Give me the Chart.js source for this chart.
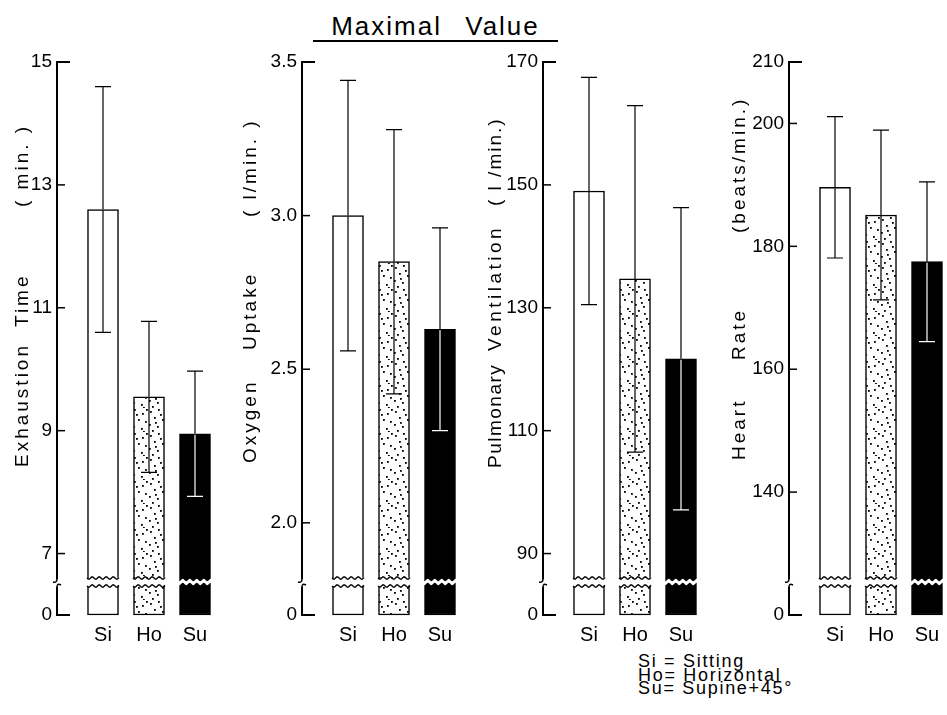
<!DOCTYPE html>
<html>
<head>
<meta charset="utf-8">
<script src="https://cdn.jsdelivr.net/npm/chart.js@4.4.1/dist/chart.umd.min.js"></script>
<style>
  html, body { margin: 0; padding: 0; background: #fff; overflow: hidden; }
  body { width: 947px; height: 715px; position: relative; font-family: "Liberation Sans", Arial, sans-serif; color: #000; }
  canvas { position: absolute; top: 0; }
  #titulo { position: absolute; left: 313px; top: 12px; width: 245px; height: 28px; line-height: 28px;
            text-align: center; font-size: 26px; letter-spacing: 2px; word-spacing: 14px; border-bottom: 2px solid #000; }
  #legenda { position: absolute; left: 638px; top: 655px; font-size: 18px; line-height: 13.5px; letter-spacing: 1.7px; white-space: pre; }
</style>
</head>
<body>
<div id="titulo">Maximal Value</div>
<div id="legenda">Si = Sitting
Ho= Horizontal
Su= Supine+45°</div>
<script>
// Posições do teste
const categorias = ['Si', 'Ho', 'Su'];

// Tempo até exaustão (min.)
const tempoMedia = [12.6, 9.55, 8.95];
const tempoDP = [2.0, 1.23, 1.02];
const tempoTicks = [7, 9, 11, 13, 15];

// Consumo de oxigênio (l/min.)
const oxigenioMedia = [3.0, 2.85, 2.63];
const oxigenioDP = [0.44, 0.43, 0.33];
const oxigenioTicks = [2.0, 2.5, 3.0, 3.5];

// Ventilação pulmonar (l/min.)
const ventilacaoMedia = [149.0, 134.7, 121.7];
const ventilacaoDP = [18.5, 28.2, 24.6];
const ventilacaoTicks = [90, 110, 130, 150, 170];

// Frequência cardíaca (bpm)
const fcMedia = [189.6, 185.1, 177.5];
const fcDP = [11.5, 13.8, 13.0];
const fcTicks = [140, 160, 180, 200, 210];

// min = onde o "0" fica depois da quebra do eixo
// titulo: [texto, y inicial, espaçamento entre letras]
const paineis = [
  { eixoX: 57, min: 6, max: 15, casas: 0, media: tempoMedia, dp: tempoDP, ticks: tempoTicks,
    tituloX: 23, titulo: [['Exhaustion', 467, 3], ['Time', 327, 3], ['( min. )', 207, 3]] },
  { eixoX: 302, min: 1.7, max: 3.5, casas: 1, media: oxigenioMedia, dp: oxigenioDP, ticks: oxigenioTicks,
    tituloX: 251, titulo: [['Oxygen', 463, 3], ['Uptake', 350, 3], ['( l/min. )', 217, 3]] },
  { eixoX: 543, min: 80, max: 170, casas: 0, media: ventilacaoMedia, dp: ventilacaoDP, ticks: ventilacaoTicks,
    tituloX: 496, titulo: [['Pulmonary', 468, 1.5], ['Ventilation', 351, 3.5], ['( l /min.)', 206, 2]] },
  { eixoX: 789, min: 120, max: 210, casas: 0, media: fcMedia, dp: fcDP, ticks: fcTicks,
    tituloX: 740, titulo: [['Heart', 460, 3], ['Rate', 360, 3], ['(beats/min.)', 233, 3]] }
];

const LARGURA_EIXO = 100;
const FOLGA = 23;
const fonte = { family: '"Liberation Sans", Arial, sans-serif', size: 19 };

// Pontilhado da barra "Ho"
function criarPontilhado() {
  const tile = document.createElement('canvas');
  tile.width = 24; tile.height = 24;
  const t = tile.getContext('2d');
  t.fillStyle = '#fff';
  t.fillRect(0, 0, 24, 24);
  t.fillStyle = '#000';
  const pontos = [[2, 3], [10, 1], [18, 5], [6, 9], [14, 11], [21, 13], [1, 16], [9, 18], [17, 20], [22, 1], [4, 22], [12, 6], [19, 23], [7, 14]];
  pontos.forEach(([x, y]) => t.fillRect(x, y, 1.8, 1.8));
  return t.createPattern(tile, 'repeat');
}

function onda(ctx, x0, x1, y, inverso) {
  const passo = inverso ? -1 : 1;
  const ini = inverso ? x1 : x0;
  const fim = inverso ? x0 : x1;
  for (let x = ini; inverso ? x >= fim : x <= fim; x += passo) {
    const yy = y + 1.2 * Math.sin((x - x0) / 7 * 2 * Math.PI);
    ctx.lineTo(x, yy);
  }
}

function criarDetalhes(p, esquerda) {
  return {
    id: 'detalhes',
    afterDraw(chart) {
      const ctx = chart.ctx;
      const area = chart.chartArea;
      const escala = chart.scales.y;
      const barras = chart.getDatasetMeta(0).data;
      const ax = area.left - FOLGA;
      const fundo = area.bottom;
      ctx.save();

      // barras de desvio padrão
      barras.forEach((b, i) => {
        const yTopo = escala.getPixelForValue(p.media[i] + p.dp[i]);
        const yBase = escala.getPixelForValue(p.media[i] - p.dp[i]);
        const dentro = i === 2 ? '#fff' : '#000';
        ctx.lineWidth = 1.2;
        ctx.strokeStyle = '#000';
        ctx.beginPath();
        ctx.moveTo(b.x, yTopo); ctx.lineTo(b.x, b.y);
        ctx.moveTo(b.x - 8, yTopo); ctx.lineTo(b.x + 8, yTopo);
        ctx.stroke();
        ctx.strokeStyle = dentro;
        ctx.beginPath();
        ctx.moveTo(b.x, b.y + 1); ctx.lineTo(b.x, yBase);
        ctx.moveTo(b.x - 8, yBase); ctx.lineTo(b.x + 8, yBase);
        ctx.stroke();
      });

      // quebra das barras
      barras.forEach((b, i) => {
        const x0 = b.x - b.width / 2 - 2;
        const x1 = b.x + b.width / 2 + 2;
        const yA = i === 2 ? fundo - 35 : fundo - 37;
        const yB = i === 2 ? fundo - 31 : fundo - 29;
        ctx.fillStyle = '#fff';
        ctx.beginPath();
        onda(ctx, x0, x1, yA, false);
        onda(ctx, x0, x1, yB, true);
        ctx.closePath();
        ctx.fill();
        if (i < 2) {
          ctx.strokeStyle = '#000';
          ctx.lineWidth = 1.4;
          const xa = b.x - b.width / 2 - 0.5;
          const xb = b.x + b.width / 2 + 0.5;
          ctx.beginPath(); onda(ctx, xa, xb, yA, false); ctx.stroke();
          ctx.beginPath(); onda(ctx, xa, xb, yB, false); ctx.stroke();
        }
      });

      // eixo vertical com quebra
      ctx.strokeStyle = '#000';
      ctx.lineWidth = 2;
      ctx.beginPath();
      ctx.moveTo(ax + 13, area.top); ctx.lineTo(ax, area.top); ctx.lineTo(ax, fundo - 36);
      ctx.stroke();
      ctx.beginPath();
      ctx.moveTo(ax, fundo - 28); ctx.lineTo(ax, fundo); ctx.lineTo(ax + 13, fundo);
      ctx.stroke();
      ctx.lineWidth = 1.5;
      ctx.beginPath();
      ctx.moveTo(ax, fundo - 36); ctx.quadraticCurveTo(ax, fundo - 32, ax - 4, fundo - 33);
      ctx.moveTo(ax + 4, fundo - 30); ctx.quadraticCurveTo(ax, fundo - 32, ax, fundo - 28);
      ctx.stroke();
      escala.ticks.forEach(t => {
        if (t.value === p.min || t.value === p.max) return;
        const py = escala.getPixelForValue(t.value);
        ctx.beginPath(); ctx.moveTo(ax - 1, py); ctx.lineTo(ax + 8, py); ctx.stroke();
      });

      // título do eixo, de baixo para cima
      ctx.fillStyle = '#000';
      ctx.font = '19px "Liberation Sans", Arial, sans-serif';
      ctx.textAlign = 'left';
      ctx.textBaseline = 'middle';
      p.titulo.forEach(([texto, y0, espaco]) => {
        ctx.save();
        ctx.letterSpacing = espaco + 'px';
        ctx.translate(p.tituloX - esquerda, y0);
        ctx.rotate(-Math.PI / 2);
        ctx.fillText(texto, 0, 0);
        ctx.restore();
      });
      ctx.restore();
    }
  };
}

const pontilhado = criarPontilhado();

paineis.forEach(p => {
  const esquerda = p.eixoX + FOLGA - LARGURA_EIXO;
  const canvas = document.createElement('canvas');
  canvas.width = LARGURA_EIXO + 138;
  canvas.height = 660;
  canvas.style.left = esquerda + 'px';
  document.body.appendChild(canvas);

  new Chart(canvas.getContext('2d'), {
    type: 'bar',
    data: {
      labels: categorias,
      datasets: [{
        data: p.media,
        base: p.min,
        backgroundColor: ['#ffffff', pontilhado, '#000000'],
        borderColor: '#000',
        borderWidth: 1.5,
        borderSkipped: false,
        barThickness: 31,
        clip: false
      }]
    },
    options: {
      responsive: false,
      animation: false,
      layout: { padding: { top: 62, right: 0, bottom: 0, left: 0 } },
      plugins: { legend: { display: false }, tooltip: { enabled: false } },
      scales: {
        x: {
          offset: true,
          grid: { display: false, drawTicks: false },
          border: { display: false },
          ticks: { color: '#000', font: { family: fonte.family, size: 20 }, padding: 8 },
          afterFit: s => { s.height = 45; }
        },
        y: {
          min: p.min,
          max: p.max,
          afterBuildTicks: s => { s.ticks = [p.min, ...p.ticks].map(v => ({ value: v })); },
          grid: { display: false, drawTicks: false },
          border: { display: false },
          ticks: {
            color: '#000',
            font: fonte,
            padding: FOLGA + 5,
            callback: v => v === p.min ? '0' : Number(v).toFixed(p.casas)
          },
          afterFit: s => { s.width = LARGURA_EIXO; }
        }
      }
    },
    plugins: [criarDetalhes(p, esquerda)]
  });
});
</script>
</body>
</html>
